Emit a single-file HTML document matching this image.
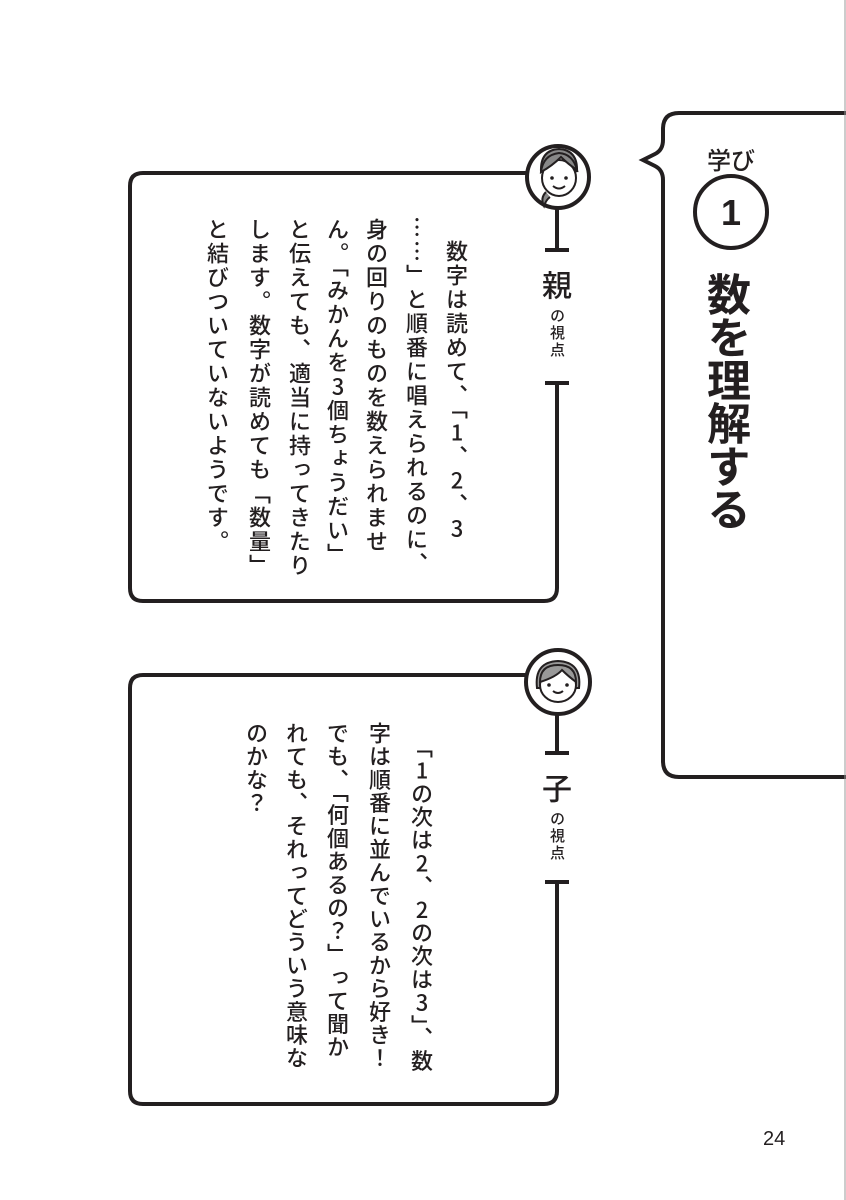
<!DOCTYPE html>
<html><head><meta charset="utf-8">
<style>
html,body{margin:0;padding:0;background:#fff;}
body{width:846px;height:1200px;position:relative;overflow:hidden;font-family:"Liberation Sans","Noto Sans CJK JP",sans-serif;color:#231f20;}
.v{position:absolute;writing-mode:vertical-rl;text-orientation:upright;white-space:nowrap;font-family:"Noto Sans CJK JP",sans-serif;font-weight:500;}
.b{font-size:22px;letter-spacing:1.2px;width:30px;line-height:30px;}
.b1{letter-spacing:2px;}
.abs{position:absolute;}
</style></head><body>
<svg class="abs" style="left:0;top:0" width="846" height="1200" viewBox="0 0 846 1200">
<g fill="none" stroke="#231f20" stroke-width="4" stroke-linecap="butt">
<path d="M527 173 H143 Q130 173 130 186 V588 Q130 601 143 601 H544 Q557 601 557 588 V383"/>
<path d="M557 209 V250"/>
<path d="M545 250 H569"/><path d="M545 383 H569"/>
<circle cx="558" cy="177" r="31"/>
<path d="M527 675 H143 Q130 675 130 688 V1091 Q130 1104 143 1104 H544 Q557 1104 557 1091 V882"/>
<path d="M557 714 V753"/>
<path d="M545 753 H569"/><path d="M545 882 H569"/>
<circle cx="558" cy="682" r="32"/>
<path d="M846 113 H679 Q663 113 663 129 V140 Q663 150 655 154 L643 160 L655 166 Q663 170 663 180 V761 Q663 777 679 777 H846"/>
<circle cx="731" cy="212" r="36"/>
</g>
<line x1="845" y1="0" x2="845" y2="1200" stroke="#999" stroke-width="1"/>
<g stroke="#231f20" stroke-width="2">
<path d="M541 172 Q540 150 559 149 Q578 150 577 172 Q572 160 562 156 Q552 163 541 172Z" fill="#888"/>
<ellipse cx="559" cy="178" rx="17" ry="18" fill="#fff"/>
<path d="M541 172 Q543 155 559 153 Q573 154 577 170 Q568 164 561 157 Q552 166 541 172Z" fill="#888"/>
<path d="M546 192 Q540 198 544 206 Q546 200 550 197" fill="#888"/>
<path d="M553 186 Q559 191 565 186" fill="none"/>
</g>
<circle cx="552" cy="178" r="1.8" fill="#231f20"/><circle cx="566" cy="178" r="1.8" fill="#231f20"/>
<g stroke="#231f20" stroke-width="2">
<path d="M537 688 Q534 662 558 661 Q582 662 579 688 Z" fill="#999"/>
<ellipse cx="558" cy="685" rx="18" ry="17" fill="#fff"/>
<path d="M540 682 Q540 665 558 665 Q576 665 576 682 Q568 676 562 670 Q556 677 540 682Z" fill="#999"/>
<path d="M553 691 Q558 695 563 691" fill="none"/>
</g>
<circle cx="549" cy="685" r="1.8" fill="#231f20"/><circle cx="567" cy="685" r="1.8" fill="#231f20"/>
<text x="731" y="225" text-anchor="middle" font-family="Liberation Sans, sans-serif" font-weight="bold" font-size="36" fill="#231f20">1</text>
</svg>

<div class="abs" style="left:700px;top:144px;width:62px;text-align:center;font-size:24px;line-height:30px;font-family:'Noto Sans CJK JP',sans-serif;font-weight:500;">学び</div>
<div class="v" style="left:704px;top:272px;width:50px;font-size:44px;font-weight:700;line-height:50px;letter-spacing:-1px;">数を理解する</div>

<div class="v" style="left:541px;top:270px;width:32px;font-size:30px;line-height:32px;">親</div>
<div class="v" style="left:548px;top:308px;width:18px;font-size:15px;line-height:18px;letter-spacing:2px;">の視点</div>
<div class="v" style="left:541px;top:773px;width:32px;font-size:30px;line-height:32px;">子</div>
<div class="v" style="left:548px;top:811px;width:18px;font-size:15px;line-height:18px;letter-spacing:2px;">の視点</div>

<div class="v b b1" style="left:442px;top:240px;">数字は読めて、「1、2、3</div>
<div class="v b b1" style="left:402px;top:216px;">……」と順番に唱えられるのに、</div>
<div class="v b b1" style="left:362px;top:218px;">身の回りのものを数えられませ</div>
<div class="v b b1" style="left:323px;top:218px;">ん。「みかんを3個ちょうだい」</div>
<div class="v b b1" style="left:285px;top:218px;">と伝えても、適当に持ってきたり</div>
<div class="v b b1" style="left:245px;top:218px;">します。数字が読めても「数量」</div>
<div class="v b b1" style="left:203px;top:218px;">と結びついていないようです。</div>

<div class="v b" style="left:407px;top:736px;">「1の次は2、2の次は3」、数</div>
<div class="v b" style="left:365px;top:722px;">字は順番に並んでいるから好き！</div>
<div class="v b" style="left:323px;top:722px;">でも、「何個あるの？」って聞か</div>
<div class="v b" style="left:282px;top:722px;">れても、それってどういう意味な</div>
<div class="v b" style="left:242px;top:722px;">のかな？</div>

<div class="abs" style="left:763px;top:1127px;font-size:20px;line-height:24px;">24</div>
</body></html>
